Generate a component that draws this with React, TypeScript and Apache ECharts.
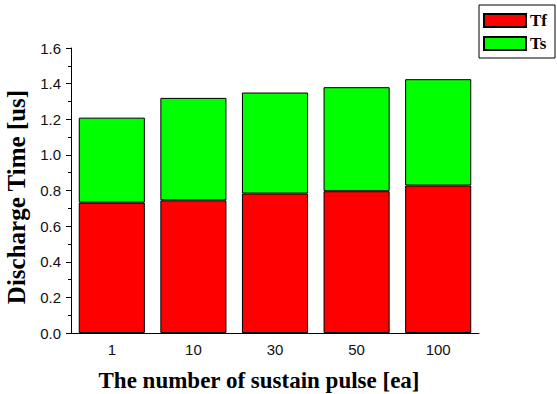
import React, { useEffect, useRef } from "react";
import * as echarts from "echarts";

// Sustain pulse counts on the x axis
const categories: string[] = ["1", "10", "30", "50", "100"];
// Formative delay time Tf (us)
const tfValues: number[] = [0.732, 0.745, 0.783, 0.796, 0.828];
// Statistical delay time Ts (us), stacked on Tf
const tsValues: number[] = [0.477, 0.575, 0.567, 0.584, 0.597];

const seriesNames: string[] = ["Tf", "Ts"];
const seriesColors: string[] = ["#ff0000", "#00ff00"];

const xTitle = "The number of sustain pulse [ea]";
const yTitle = "Discharge Time [us]";

const SERIF = "'Times New Roman', 'Liberation Serif', serif";
const SANS = "Arial, 'Liberation Sans', sans-serif";

export default function App() {
  const ref = useRef<HTMLDivElement>(null);

  useEffect(() => {
    if (!ref.current) return;
    const chart = echarts.init(ref.current, null, { renderer: "svg" });

    const values = [tfValues, tsValues];

    chart.setOption({
      animation: false,
      backgroundColor: "#ffffff",
      grid: { left: 71, right: 78, top: 48, bottom: 61, containLabel: false },
      legend: {
        orient: "vertical",
        left: 479,
        top: 5,
        padding: [7, 8, 6, 4],
        itemGap: 6,
        itemWidth: 42,
        itemHeight: 13,
        icon: "rect",
        borderColor: "#000",
        borderWidth: 1,
        borderRadius: 0,
        selectedMode: false,
        textStyle: {
          fontFamily: SERIF,
          fontWeight: "bold",
          fontSize: 17,
          color: "#000",
          padding: [0, 0, 0, -1],
        },
        data: seriesNames,
      },
      xAxis: [
        {
          type: "category",
          data: categories,
          axisLine: { lineStyle: { color: "#000", width: 1 } },
          axisTick: { alignWithLabel: true, length: 5, lineStyle: { color: "#000" } },
          axisLabel: { fontFamily: SANS, fontSize: 15, color: "#111", margin: 9 },
        },
        {
          type: "category",
          data: categories,
          position: "bottom",
          axisLine: { show: false },
          axisTick: { length: 3, lineStyle: { color: "#000" } },
          axisLabel: { show: false },
        },
      ],
      yAxis: {
        type: "value",
        min: 0,
        max: 1.6,
        interval: 0.2,
        axisLine: { show: true, lineStyle: { color: "#000", width: 1 } },
        axisTick: { show: true, length: 5, lineStyle: { color: "#000" } },
        minorTick: { show: true, splitNumber: 2, length: 3, lineStyle: { color: "#000" } },
        splitLine: { show: false },
        axisLabel: {
          fontFamily: SANS,
          fontSize: 15,
          color: "#111",
          margin: 10,
          formatter: (v: number) => v.toFixed(1),
        },
      },
      series: seriesNames.map((name, i) => ({
        name,
        type: "bar",
        stack: "total",
        barCategoryGap: "19%",
        data: values[i],
        itemStyle: { color: seriesColors[i], borderColor: "#000", borderWidth: 1 },
      })),
      graphic: [
        {
          type: "text",
          x: 259,
          y: 380,
          style: {
            text: xTitle,
            fontFamily: SERIF,
            fontWeight: "bold",
            fontSize: 23,
            fill: "#000",
            align: "center",
            verticalAlign: "middle",
          },
        },
        {
          type: "text",
          x: 16,
          y: 197,
          rotation: Math.PI / 2,
          style: {
            text: yTitle,
            fontFamily: SERIF,
            fontWeight: "bold",
            fontSize: 25,
            fill: "#000",
            align: "center",
            verticalAlign: "middle",
          },
        },
      ],
    });

    return () => chart.dispose();
  }, []);

  return (
    <div
      ref={ref}
      style={{ position: "fixed", left: 0, top: 0, width: 557, height: 394 }}
    />
  );
}
